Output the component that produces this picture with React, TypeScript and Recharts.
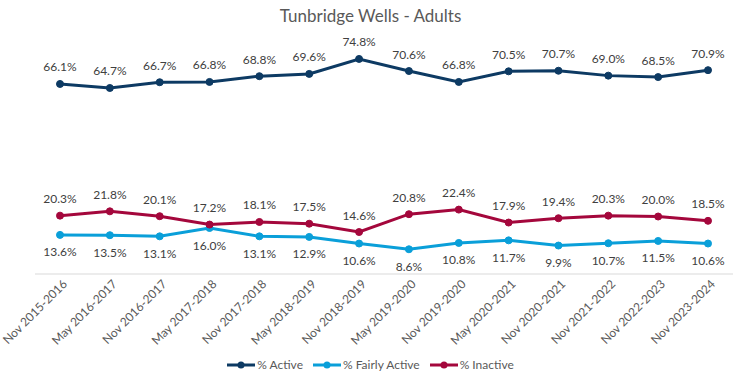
import { LineChart, Line, XAxis, YAxis, LabelList } from "recharts";

const categories = [
  "Nov 2015-2016",
  "May 2016-2017",
  "Nov 2016-2017",
  "May 2017-2018",
  "Nov 2017-2018",
  "May 2018-2019",
  "Nov 2018-2019",
  "May 2019-2020",
  "Nov 2019-2020",
  "May 2020-2021",
  "Nov 2020-2021",
  "Nov 2021-2022",
  "Nov 2022-2023",
  "Nov 2023-2024",
];
const active = [66.1, 64.7, 66.7, 66.8, 68.8, 69.6, 74.8, 70.6, 66.8, 70.5, 70.7, 69.0, 68.5, 70.9];
const fairlyActive = [13.6, 13.5, 13.1, 16.0, 13.1, 12.9, 10.6, 8.6, 10.8, 11.7, 9.9, 10.7, 11.5, 10.6];
const inactive = [20.3, 21.8, 20.1, 17.2, 18.1, 17.5, 14.6, 20.8, 22.4, 17.9, 19.4, 20.3, 20.0, 18.5];

const data = categories.map((name, i) => ({
  name,
  active: active[i],
  fairly: fairlyActive[i],
  inactive: inactive[i],
}));

const FONT = "Lato, 'Open Sans', sans-serif";
const TEXT = "#404040";

const series = [
  { key: "active", label: "% Active", color: "#0d3a63", above: true },
  { key: "fairly", label: "% Fairly Active", color: "#0a9fd9", above: false },
  { key: "inactive", label: "% Inactive", color: "#a4073c", above: true },
];

function makeLabel(above: boolean) {
  return (props: any) => {
    const { x, y, value } = props;
    return (
      <text
        x={x}
        y={above ? y - 17 : y + 17}
        textAnchor="middle"
        dominantBaseline="central"
        fontSize={12}
        fontFamily={FONT}
        fill={TEXT}
      >
        {Number(value).toFixed(1)}%
      </text>
    );
  };
}

function XTick(props: any) {
  const { x, payload } = props;
  const ax = x + 5;
  const ay = 282;
  return (
    <text
      x={ax}
      y={ay}
      dy={4}
      textAnchor="end"
      transform={`rotate(-45 ${ax} ${ay})`}
      fontSize={12}
      fontFamily={FONT}
      fill="#595959"
    >
      {payload.value}
    </text>
  );
}

export default function App() {
  return (
    <div style={{ position: "absolute", left: 0, top: 0, width: 741, height: 381, background: "#fff", fontFamily: FONT }}>
      <div
        style={{
          position: "absolute",
          top: 5,
          left: 0,
          width: 741,
          textAlign: "center",
          fontSize: 17,
          color: "#595959",
        }}
      >
        Tunbridge Wells - Adults
      </div>
      <LineChart
        width={741}
        height={381}
        data={data}
        margin={{ top: 44, right: 8, left: 35, bottom: 27 }}
      >
        <XAxis
          dataKey="name"
          height={80}
          padding={{ left: 25, right: 25 }}
          tickLine={false}
          axisLine={{ stroke: "#d9d9d9" }}
          tick={<XTick />}
          interval={0}
        />
        <YAxis hide domain={[0, 80]} />
        {series.map((s) => (
          <Line
            key={s.key}
            dataKey={s.key}
            stroke={s.color}
            strokeWidth={3}
            dot={{ r: 3.5, fill: s.color, stroke: s.color, strokeWidth: 1 }}
            isAnimationActive={false}
          >
            <LabelList dataKey={s.key} content={makeLabel(s.above)} />
          </Line>
        ))}
      </LineChart>
      <div
        style={{
          position: "absolute",
          top: 357,
          left: 0,
          width: 741,
          display: "flex",
          justifyContent: "center",
          gap: 10,
          fontSize: 12,
          color: "#595959",
          lineHeight: "16px",
        }}
      >
        {series.map((s) => (
          <div key={s.key} style={{ display: "flex", alignItems: "center" }}>
            <svg width={28} height={10} style={{ marginRight: 2 }}>
              <line x1={0} y1={5} x2={28} y2={5} stroke={s.color} strokeWidth={3} />
              <circle cx={14} cy={5} r={3.5} fill={s.color} />
            </svg>
            <span>{s.label}</span>
          </div>
        ))}
      </div>
    </div>
  );
}
